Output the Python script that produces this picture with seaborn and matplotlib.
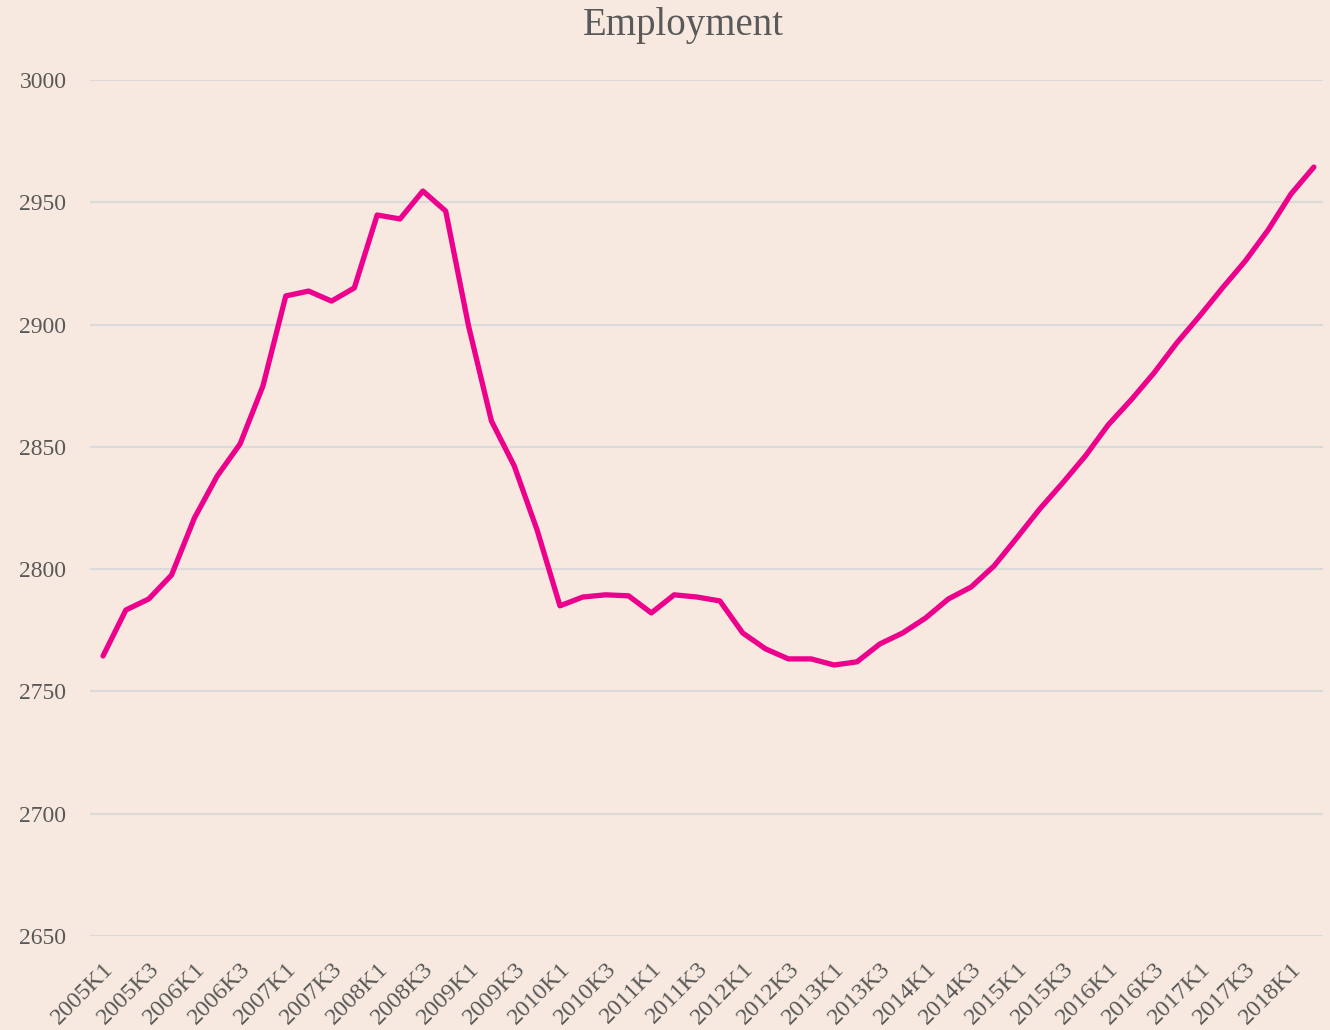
import matplotlib
matplotlib.use("Agg")
import matplotlib.pyplot as plt
import seaborn as sns
import pandas as pd

years = list(range(2005, 2019))
quarters = [f"{y}K{q}" for y in years for q in (1, 2, 3, 4)][:54]

employment = [
    2764.5, 2783.3, 2787.8, 2797.6, 2820.9, 2838.1, 2851.2, 2874.9,
    2911.7, 2913.7, 2909.6, 2915.0, 2944.8, 2943.2, 2954.6, 2946.4,
    2899.4, 2860.6, 2842.2, 2816.0, 2785.0, 2788.6, 2789.5, 2789.1,
    2782.1, 2789.5, 2788.6, 2787.0, 2773.9, 2767.4, 2763.3, 2763.3,
    2760.8, 2762.1, 2769.4, 2773.9, 2780.0, 2787.8, 2792.7, 2801.3,
    2812.8, 2824.6, 2835.2, 2846.3, 2859.0, 2869.2, 2880.2, 2892.5,
    2903.5, 2915.0, 2926.0, 2938.7, 2953.4, 2964.4,
]

yticks = [2650, 2700, 2750, 2800, 2850, 2900, 2950, 3000]

bg = "#F7E9DF"
line_color = "#EC008C"
text_color = "#595959"
grid_color = "#DCDAD8"

sns.set_theme(style="white")
plt.rcParams["font.family"] = ["Liberation Serif", "DejaVu Serif"]

df = pd.DataFrame({"idx": range(len(quarters)), "quarter": quarters, "value": employment})

fig = plt.figure(figsize=(13.3, 10.3), dpi=100, facecolor=bg)
ax = fig.add_axes([90 / 1330, 1 - 936 / 1030, (1323 - 90) / 1330, (936 - 80) / 1030])
ax.set_facecolor(bg)

sns.lineplot(data=df, x="idx", y="value", ax=ax, color=line_color, linewidth=3.8,
             legend=False, zorder=3)

ax.set_ylim(2650, 3000)
ax.set_xlim(-0.57, len(quarters) - 1 + 0.4)
ax.set_yticks(yticks)
ax.set_yticklabels([str(v) for v in yticks])
tick_pos = list(range(0, len(quarters), 2))
ax.set_xticks(tick_pos)
ax.set_xticklabels([quarters[i] for i in tick_pos], rotation=45, ha="right",
                   rotation_mode="anchor")

ax.yaxis.grid(True, color=grid_color, linewidth=1.6, zorder=0)
ax.xaxis.grid(False)
for s in ax.spines.values():
    s.set_visible(False)
ax.tick_params(axis="y", length=0, pad=17, labelsize=17, labelcolor=text_color)
ax.tick_params(axis="x", length=0, pad=16, labelsize=17.5, labelcolor=text_color)
ax.set_xlabel("")
ax.set_ylabel("")

fig.text(683 / 1330, 1 - 7 / 1030, "Employment", ha="center", va="top",
         fontsize=28, color=text_color)

fig.savefig("out.png", dpi=100, facecolor=bg)
